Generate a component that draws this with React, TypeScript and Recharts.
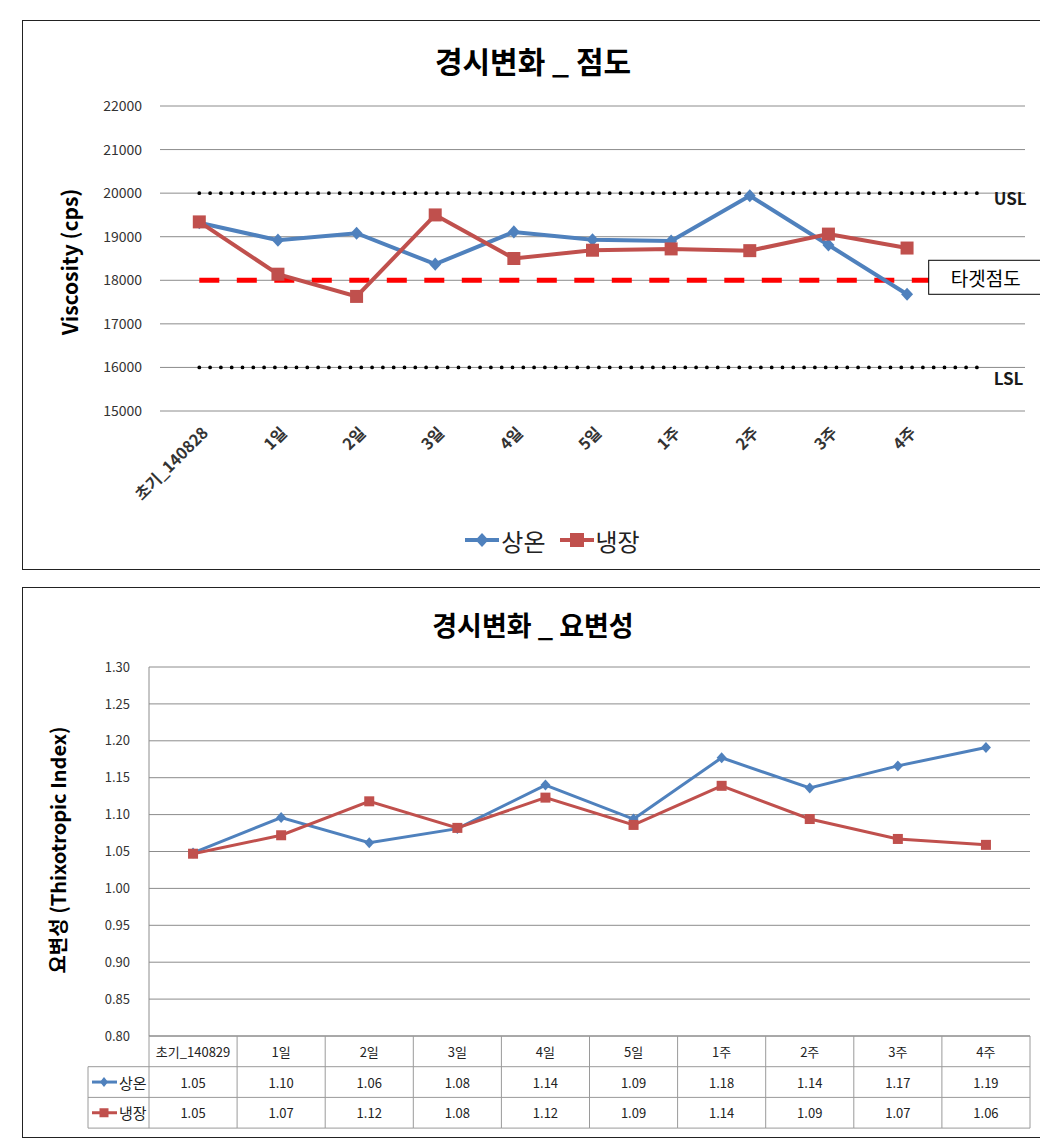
import React from 'react';
import { LineChart, Line, XAxis, YAxis, CartesianGrid, Legend, Label } from 'recharts';

const FONT = "'Noto Sans CJK KR', 'Noto Sans', sans-serif";
const BLUE = '#4F81BD';
const RED = '#C0504D';
const GRID = '#8C8C8C';

// ---------- Chart 1: viscosity ----------
const viscCategories = ['초기_140828', '1일', '2일', '3일', '4일', '5일', '1주', '2주', '3주', '4주', ' '];
const viscRoomTemp = [19320, 18920, 19080, 18370, 19110, 18930, 18900, 19940, 18810, 17680, null];
const viscCold = [19340, 18140, 17630, 19500, 18500, 18690, 18720, 18680, 19060, 18740, null];
const viscTicks = [15000, 16000, 17000, 18000, 19000, 20000, 21000, 22000];
const USL = 20000;
const LSL = 16000;
const TARGET = 18000;
const seriesNames = ['상온', '냉장'];

// ---------- Chart 2: thixotropic index ----------
const thixCategories = ['초기_140829', '1일', '2일', '3일', '4일', '5일', '1주', '2주', '3주', '4주'];
const thixRoomTemp = [1.048, 1.096, 1.062, 1.081, 1.14, 1.094, 1.177, 1.136, 1.166, 1.191];
const thixCold = [1.047, 1.072, 1.118, 1.082, 1.123, 1.086, 1.139, 1.094, 1.067, 1.059];
const thixTicks = [0.8, 0.85, 0.9, 0.95, 1.0, 1.05, 1.1, 1.15, 1.2, 1.25, 1.3];

const viscData = viscCategories.map((c, i) => ({
  cat: c,
  room: viscRoomTemp[i],
  cold: viscCold[i],
  usl: USL,
  lsl: LSL,
  target: TARGET,
}));

const thixData = thixCategories.map((c, i) => ({
  cat: c,
  room: thixRoomTemp[i],
  cold: thixCold[i],
}));

const ok = (v: any) => typeof v === 'number' && Number.isFinite(v);

const diamondDot = (r: number, color: string) => (p: any) => {
  const { cx, cy, index, value } = p;
  if (!ok(cx) || !ok(cy) || value == null) return <g key={`dd${index}`} />;
  return (
    <polygon
      key={`dd${index}`}
      points={`${cx},${cy - r * 1.1} ${cx + r},${cy} ${cx},${cy + r * 1.1} ${cx - r},${cy}`}
      fill={color}
    />
  );
};

const squareDot = (s: number, color: string) => (p: any) => {
  const { cx, cy, index, value } = p;
  if (!ok(cx) || !ok(cy) || value == null) return <g key={`sd${index}`} />;
  return <rect key={`sd${index}`} x={cx - s / 2} y={cy - s / 2} width={s} height={s} fill={color} />;
};

const lastIdx = viscCategories.length - 1;

const specLabel = (text: string, dy: number) => (p: any) => {
  const { cx, cy, index } = p;
  if (index !== lastIdx || !ok(cx) || !ok(cy)) return <g key={`sl${index}`} />;
  return (
    <text
      key={`sl${index}`}
      x={cx + 8}
      y={cy + dy}
      fontSize={17}
      fontWeight="bold"
      fill="#1a1a1a"
      dominantBaseline="central"
      fontFamily={FONT}
    >
      {text}
    </text>
  );
};

const targetLabel = (p: any) => {
  const { cx, cy, index } = p;
  if (index !== lastIdx || !ok(cx) || !ok(cy)) return <g key={`tl${index}`} />;
  return (
    <g key={`tl${index}`}>
      <rect x={cx - 57} y={cy - 20} width={114} height={34} fill="#fff" stroke="#000" strokeWidth={1} />
      <text x={cx} y={cy - 3} textAnchor="middle" dominantBaseline="central" fontSize={19} fill="#000" fontFamily={FONT}>
        타겟점도
      </text>
    </g>
  );
};

const ViscTick = (p: any) => {
  const { x, y, payload } = p;
  if (!String(payload.value).trim()) return <g />;
  return (
    <text
      x={0}
      y={0}
      transform={`translate(${x + 10},${y + 23}) rotate(-45)`}
      textAnchor="end"
      fontSize={16}
      fontWeight="bold"
      fill="#333"
      fontFamily={FONT}
    >
      {payload.value}
    </text>
  );
};

const LegendIcon = ({ color, shape }: { color: string; shape: 'diamond' | 'square' }) => (
  <svg width={34} height={16} style={{ display: 'block' }}>
    <line x1={0} y1={8} x2={34} y2={8} stroke={color} strokeWidth={4} />
    {shape === 'diamond' ? (
      <polygon points="17,1 23.5,8 17,15 10.5,8" fill={color} />
    ) : (
      <rect x={10} y={1} width={14} height={14} fill={color} />
    )}
  </svg>
);

const ViscLegend = () => (
  <div
    style={{
      display: 'flex',
      justifyContent: 'center',
      alignItems: 'center',
      height: 30,
      fontSize: 24,
      fontFamily: FONT,
      color: '#222',
      gap: 14,
    }}
  >
    <span style={{ display: 'flex', alignItems: 'center', gap: 2 }}>
      <LegendIcon color={BLUE} shape="diamond" />
      <span>{seriesNames[0]}</span>
    </span>
    <span style={{ display: 'flex', alignItems: 'center', gap: 2 }}>
      <LegendIcon color={RED} shape="square" />
      <span>{seriesNames[1]}</span>
    </span>
  </div>
);

// table for chart 2
const CELL_W = 88.1;
const ROW_H = 30.7;
const TABLE_LEFT = 65;
const TABLE_LINE = '#9a9a9a';

const ThixTick = (p: any) => {
  const { x, y, payload } = p;
  const i = payload.index ?? p.index ?? 0;
  const left = x - CELL_W / 2;
  const right = x + CELL_W / 2;
  const top = y;
  const hl = i === 0 ? TABLE_LEFT : left;
  const els: any[] = [];
  els.push(<line key="vr" x1={right} y1={top} x2={right} y2={top + 3 * ROW_H} stroke={TABLE_LINE} />);
  if (i === 0) {
    els.push(<line key="vl" x1={left} y1={top} x2={left} y2={top + 3 * ROW_H} stroke={TABLE_LINE} />);
    els.push(<line key="vll" x1={TABLE_LEFT} y1={top + ROW_H} x2={TABLE_LEFT} y2={top + 3 * ROW_H} stroke={TABLE_LINE} />);
  }
  [1, 2, 3].forEach((r) => {
    els.push(<line key={`h${r}`} x1={hl} y1={top + r * ROW_H} x2={right} y2={top + r * ROW_H} stroke={TABLE_LINE} />);
  });
  els.push(
    <text key="cat" x={x} y={top + ROW_H / 2} textAnchor="middle" dominantBaseline="central" fontSize={13} fill="#222" fontFamily={FONT}>
      {payload.value}
    </text>
  );
  const vals = [thixRoomTemp[i], thixCold[i]];
  vals.forEach((v, r) => {
    els.push(
      <text key={`v${r}`} x={x} y={top + ROW_H * (r + 1.5)} textAnchor="middle" dominantBaseline="central" fontSize={13} fill="#222" fontFamily={FONT}>
        {v.toFixed(2)}
      </text>
    );
  });
  if (i === 0) {
    [0, 1].forEach((r) => {
      const cy = top + ROW_H * (r + 1.5);
      const color = r === 0 ? BLUE : RED;
      els.push(<line key={`ll${r}`} x1={69} y1={cy} x2={94} y2={cy} stroke={color} strokeWidth={3} />);
      if (r === 0) {
        els.push(<polygon key="lm0" points={`81,${cy - 5} 85,${cy} 81,${cy + 5} 77,${cy}`} fill={color} />);
      } else {
        els.push(<rect key="lm1" x={76.5} y={cy - 4.5} width={9} height={9} fill={color} />);
      }
      els.push(
        <text key={`lt${r}`} x={96} y={cy} dominantBaseline="central" fontSize={15} fill="#222" fontFamily={FONT}>
          {seriesNames[r]}
        </text>
      );
    });
  }
  return <g>{els}</g>;
};

const boxStyle = (top: number, height: number): React.CSSProperties => ({
  position: 'absolute',
  left: 14,
  top,
  width: 1020,
  height,
  border: '1px solid #222',
  background: '#fff',
});

const titleStyle = (centerY: number, size: number): React.CSSProperties => ({
  position: 'absolute',
  left: 0,
  top: centerY - 20,
  width: '100%',
  height: 40,
  lineHeight: '40px',
  textAlign: 'center',
  fontFamily: FONT,
  fontWeight: 'bold',
  fontSize: size,
  color: '#000',
  zIndex: 2,
});

export default function App() {
  return (
    <div style={{ position: 'relative', width: 1040, height: 1137, fontFamily: FONT }}>
      {/* Chart 1 */}
      <div style={boxStyle(12, 548)}>
        <div style={titleStyle(39, 30)}>경시변화 _ 점도</div>
        <div style={{ position: 'absolute', left: 0, top: 0 }}>
          <LineChart width={1020} height={548} data={viscData} margin={{ top: 85, right: 18, bottom: 14, left: 57 }}>
            <CartesianGrid vertical={false} stroke={GRID} />
            <XAxis
              dataKey="cat"
              interval={0}
              tickLine={false}
              axisLine={false}
              tickSize={0}
              tickMargin={0}
              height={114}
              padding={{ left: 39.3, right: 39.3 }}
              tick={(p: any) => <ViscTick {...p} />}
            />
            <YAxis
              width={80}
              domain={[15000, 22000]}
              ticks={viscTicks}
              interval={0}
              axisLine={false}
              tickLine={false}
              tickMargin={12}
              tick={{ fill: '#333', fontSize: 14, fontFamily: FONT }}
            >
              <Label
                value="Viscosity (cps)"
                content={() => (
                  <text
                    x={0}
                    y={0}
                    transform="translate(46,241) rotate(-90)"
                    textAnchor="middle"
                    dominantBaseline="central"
                    fontSize={21}
                    fontWeight="bold"
                    fill="#000"
                    fontFamily={FONT}
                  >
                    Viscosity (cps)
                  </text>
                )}
              />
            </YAxis>
            <Legend verticalAlign="bottom" align="center" content={ViscLegend} />
            <Line
              dataKey="usl"
              stroke="#000"
              strokeWidth={3.8}
              strokeDasharray="0 10.8"
              strokeLinecap="round"
              dot={specLabel('USL', 4)}
              activeDot={false}
              isAnimationActive={false}
              legendType="none"
            />
            <Line
              dataKey="lsl"
              stroke="#000"
              strokeWidth={3.8}
              strokeDasharray="0 10.8"
              strokeLinecap="round"
              dot={specLabel('LSL', 10)}
              activeDot={false}
              isAnimationActive={false}
              legendType="none"
            />
            <Line
              dataKey="target"
              stroke="#FF0000"
              strokeWidth={5}
              strokeDasharray="20 17.5"
              dot={targetLabel}
              activeDot={false}
              isAnimationActive={false}
              legendType="none"
            />
            <Line
              dataKey="room"
              name={seriesNames[0]}
              stroke={BLUE}
              strokeWidth={4}
              dot={diamondDot(6, BLUE)}
              activeDot={false}
              isAnimationActive={false}
            />
            <Line
              dataKey="cold"
              name={seriesNames[1]}
              stroke={RED}
              strokeWidth={4}
              dot={squareDot(13, RED)}
              activeDot={false}
              isAnimationActive={false}
            />
          </LineChart>
        </div>
      </div>

      {/* Chart 2 */}
      <div style={boxStyle(579, 549)}>
        <div style={titleStyle(37, 27)}>경시변화 _ 요변성</div>
        <div style={{ position: 'absolute', left: 0, top: 0 }}>
          <LineChart width={1020} height={549} data={thixData} margin={{ top: 79, right: 13, bottom: 9, left: 46 }}>
            <CartesianGrid vertical={false} stroke={GRID} />
            <XAxis
              dataKey="cat"
              interval={0}
              tickLine={false}
              axisLine={{ stroke: GRID }}
              tickSize={0}
              tickMargin={0}
              height={92}
              padding={{ left: 44.05, right: 44.05 }}
              tick={(p: any) => <ThixTick {...p} />}
            />
            <YAxis
              width={80}
              domain={[0.8, 1.3]}
              ticks={thixTicks}
              interval={0}
              axisLine={{ stroke: GRID }}
              tickLine={false}
              tickMargin={13}
              tickFormatter={(v: number) => v.toFixed(2)}
              tick={{ fill: '#333', fontSize: 13, fontFamily: FONT }}
            >
              <Label
                value="요변성 (Thixotropic Index)"
                content={() => (
                  <text
                    x={0}
                    y={0}
                    transform="translate(34,262) rotate(-90)"
                    textAnchor="middle"
                    dominantBaseline="central"
                    fontSize={20}
                    fontWeight="bold"
                    fill="#000"
                    fontFamily={FONT}
                  >
                    요변성 (Thixotropic Index)
                  </text>
                )}
              />
            </YAxis>
            <Line
              dataKey="room"
              name={seriesNames[0]}
              stroke={BLUE}
              strokeWidth={3}
              dot={diamondDot(5, BLUE)}
              activeDot={false}
              isAnimationActive={false}
            />
            <Line
              dataKey="cold"
              name={seriesNames[1]}
              stroke={RED}
              strokeWidth={3}
              dot={squareDot(10, RED)}
              activeDot={false}
              isAnimationActive={false}
            />
          </LineChart>
        </div>
      </div>
    </div>
  );
}
